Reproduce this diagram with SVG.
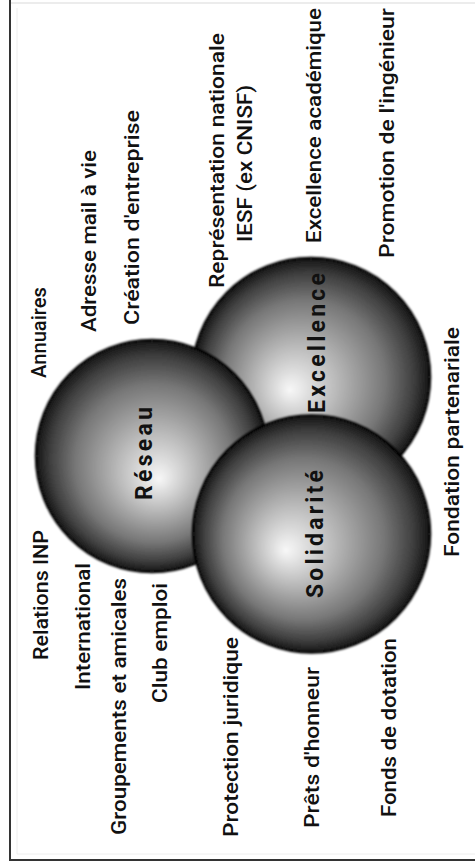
<svg xmlns="http://www.w3.org/2000/svg" width="475" height="864" viewBox="0 0 475 864">
<defs>
<radialGradient id="gR" cx="0.5" cy="0.5" r="0.5" fx="0.53" fy="0.6">
<stop offset="0" stop-color="#f8f8f8"/><stop offset="0.3" stop-color="#c0c0c0"/><stop offset="0.68" stop-color="#777777"/><stop offset="0.88" stop-color="#404040"/><stop offset="1" stop-color="#141414"/>
</radialGradient>
<radialGradient id="gE" cx="0.5" cy="0.5" r="0.5" fx="0.41" fy="0.555">
<stop offset="0" stop-color="#f8f8f8"/><stop offset="0.3" stop-color="#c0c0c0"/><stop offset="0.68" stop-color="#777777"/><stop offset="0.88" stop-color="#404040"/><stop offset="1" stop-color="#141414"/>
</radialGradient>
<radialGradient id="gS" cx="0.5" cy="0.5" r="0.5" fx="0.39" fy="0.57">
<stop offset="0" stop-color="#f8f8f8"/><stop offset="0.3" stop-color="#c0c0c0"/><stop offset="0.68" stop-color="#777777"/><stop offset="0.88" stop-color="#404040"/><stop offset="1" stop-color="#141414"/>
</radialGradient>
<filter id="soft" x="-5%" y="-5%" width="110%" height="110%"><feGaussianBlur stdDeviation="1.3"/></filter>
</defs>
<style>
.t{font-family:Roboto,"Liberation Sans",Arial,sans-serif;font-size:21px;font-weight:500;fill:#111;}
.b{font-family:Roboto,"Liberation Sans",Arial,sans-serif;font-size:23px;font-weight:bold;fill:#111;}
.ball{stroke:#050505;stroke-width:2.5;filter:url(#soft);}
</style>
<rect x="0" y="0" width="475" height="864" fill="#ffffff"/>
<g id="frame">
<line x1="10" y1="3" x2="475" y2="3" stroke="#e6e6e6" stroke-width="1.5"/>
<line x1="17" y1="8" x2="17" y2="854" stroke="#eeeeee" stroke-width="1"/>
<line x1="17" y1="854" x2="475" y2="854" stroke="#eeeeee" stroke-width="1"/>
<line x1="10" y1="0" x2="10" y2="860" stroke="#333" stroke-width="2"/>
<line x1="9" y1="860" x2="475" y2="860" stroke="#333" stroke-width="2"/>
</g>
<g id="connectors"></g>
<g id="excellence">
<circle class="ball" cx="311" cy="377" r="119" fill="url(#gE)"/>
</g>
<g id="reseau">
<circle class="ball" cx="152" cy="456" r="116" fill="url(#gR)"/>
</g>
<g id="solidarite">
<circle class="ball" cx="311.5" cy="534" r="118.5" fill="url(#gS)"/>
</g>
<g id="labels-circles">
<text class="b" transform="translate(152,500) rotate(-90)" textLength="93" lengthAdjust="spacing">Réseau</text>
<text class="b" transform="translate(325,413) rotate(-90)" textLength="140" lengthAdjust="spacing">Excellence</text>
<text class="b" transform="translate(323,598) rotate(-90)" textLength="128" lengthAdjust="spacing">Solidarité</text>
</g>
<g id="items">
<text class="t" transform="translate(48,660) rotate(-90)" textLength="130" lengthAdjust="spacingAndGlyphs">Relations INP</text>
<text class="t" transform="translate(46,378) rotate(-90)" textLength="91" lengthAdjust="spacingAndGlyphs">Annuaires</text>
<text class="t" transform="translate(90,690) rotate(-90)" textLength="127" lengthAdjust="spacingAndGlyphs">International</text>
<text class="t" transform="translate(96,332) rotate(-90)" textLength="182" lengthAdjust="spacingAndGlyphs">Adresse mail à vie</text>
<text class="t" transform="translate(126,835) rotate(-90)" textLength="257" lengthAdjust="spacingAndGlyphs">Groupements et amicales</text>
<text class="t" transform="translate(167,703) rotate(-90)" textLength="120" lengthAdjust="spacingAndGlyphs">Club emploi</text>
<text class="t" transform="translate(139,325) rotate(-90)" textLength="215" lengthAdjust="spacingAndGlyphs">Création d'entreprise</text>
<text class="t" transform="translate(238,837) rotate(-90)" textLength="200" lengthAdjust="spacingAndGlyphs">Protection juridique</text>
<text class="t" transform="translate(224,288) rotate(-90)" textLength="255" lengthAdjust="spacingAndGlyphs">Représentation nationale</text>
<text class="t" transform="translate(252,242) rotate(-90)" textLength="157" lengthAdjust="spacingAndGlyphs">IESF (ex CNISF)</text>
<text class="t" transform="translate(319,828) rotate(-90)" textLength="161" lengthAdjust="spacingAndGlyphs">Prêts d'honneur</text>
<text class="t" transform="translate(321,243) rotate(-90)" textLength="235" lengthAdjust="spacingAndGlyphs">Excellence académique</text>
<text class="t" transform="translate(396,817) rotate(-90)" textLength="179" lengthAdjust="spacingAndGlyphs">Fonds de dotation</text>
<text class="t" transform="translate(394,258) rotate(-90)" textLength="250" lengthAdjust="spacingAndGlyphs">Promotion de l'ingénieur</text>
<text class="t" transform="translate(459,557) rotate(-90)" textLength="230" lengthAdjust="spacingAndGlyphs">Fondation partenariale</text>
</g>
</svg>
